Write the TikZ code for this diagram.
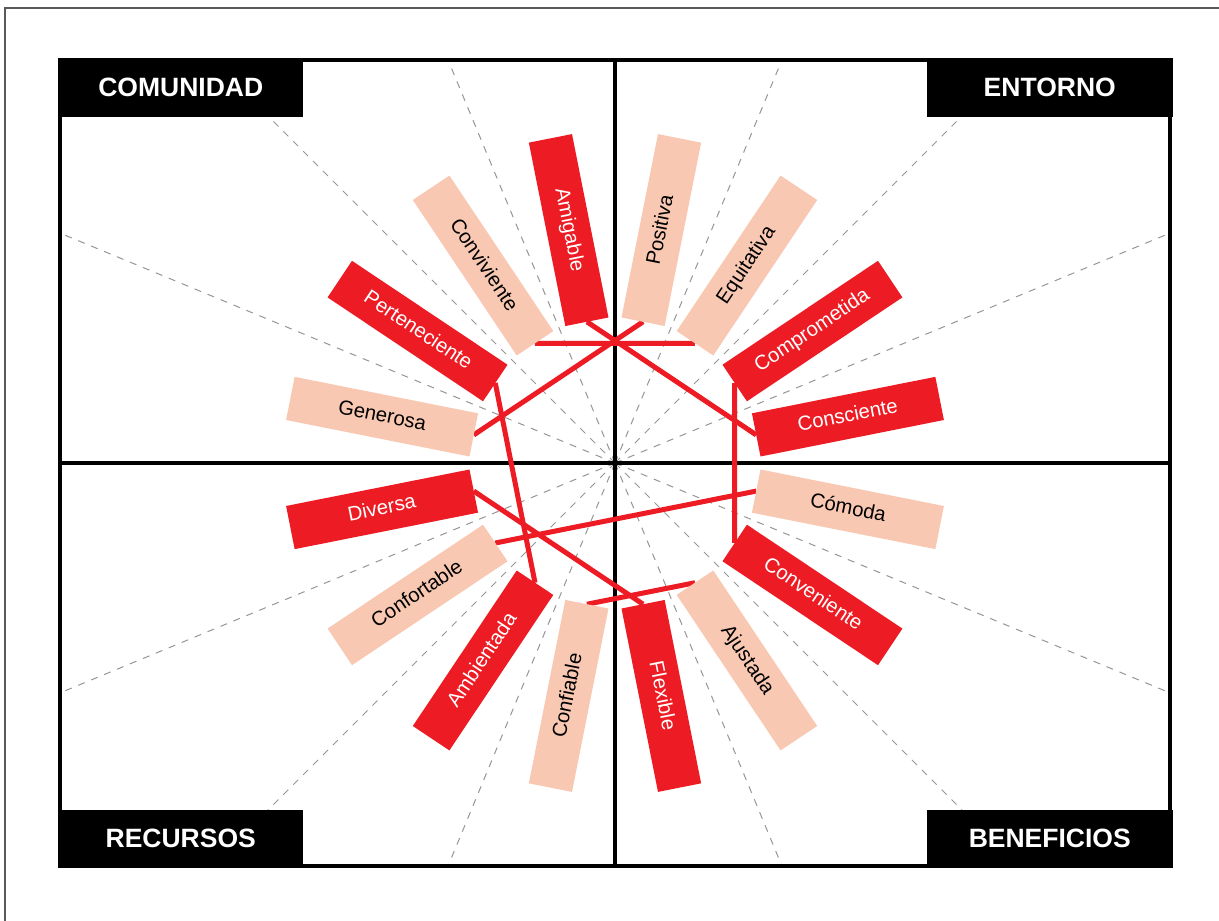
\documentclass[tikz,border=0pt]{standalone}
\usepackage{fontspec}
\setmainfont{Liberation Sans}
\definecolor{cred}{RGB}{237,28,36}
\definecolor{cpeach}{RGB}{248,200,178}
\definecolor{cspoke}{RGB}{150,150,150}
\pgfdeclarelayer{bg}
\pgfdeclarelayer{links}
\pgfsetlayers{bg,links,main}
\begin{document}
\begin{tikzpicture}[x=1pt,y=1pt,
  lbl/.style={minimum width=187pt, minimum height=44pt, inner sep=0pt, outer sep=0pt,
    text height=14.6pt, text depth=4.3pt, font=\fontsize{20.3}{24}\selectfont},
  rbox/.style={lbl, fill=cred, text=white},
  pbox/.style={lbl, fill=cpeach, text=black},
  corner/.style={fill=black, text=white, font=\bfseries\fontsize{26.5}{30}\selectfont,
    minimum width=245.5pt, minimum height=58.5pt, inner sep=0pt, outer sep=0pt},
  spoke/.style={draw=cspoke, line width=1pt, dash pattern=on 7pt off 7pt},
  link/.style={draw=cred, line width=5pt},
  axis/.style={draw=black, line width=4.5pt},
]
\useasboundingbox (-615,-458) rectangle (604,463);
\begin{pgfonlayer}{bg}
\fill[white] (-615,-458) rectangle (604,463);
\draw[line width=2pt, draw=black!65] (-610,-458) -- (-610,455) -- (604,455);
\coordinate (o) at (0,0);
\begin{scope}
\clip (-555,-402.5) rectangle (555,402.5);
\foreach \a in {22.5,45,67.5,112.5,135,157.5,202.5,225,247.5,292.5,315,337.5}
  \draw[spoke] (o) -- (\a:720);
\end{scope}
\coordinate (n) at (0,404);
\coordinate (s) at (0,-404);
\coordinate (w) at (-557,0);
\coordinate (e) at (557,0);
\draw[axis] (n) -- (s);
\draw[axis] (w) -- (e);
\draw[line width=4pt] (-555,-402.5) rectangle (555,402.5);
\node[corner, anchor=north west] (comunidad) at (-557,404.5) {COMUNIDAD};
\node[corner, anchor=north east] (entorno) at (557.5,404.5) {ENTORNO};
\node[corner, anchor=south west] (recursos) at (-557,-405) {RECURSOS};
\node[corner, anchor=south east] (beneficios) at (557.5,-405) {BENEFICIOS};
\end{pgfonlayer}

\node[pbox, rotate=78.75] (positiva) at (78.75:237.5) {Positiva};
\node[pbox, rotate=56.25] (equitativa) at (56.25:237.5) {Equitativa};
\node[rbox, rotate=33.75] (comprometida) at (33.75:237.5) {Comprometida};
\node[rbox, rotate=11.25] (consciente) at (11.25:237.5) {Consciente};
\node[pbox, rotate=-11.25] (comoda) at (-11.25:237.5) {Cómoda};
\node[rbox, rotate=-33.75] (conveniente) at (-33.75:237.5) {Conveniente};
\node[pbox, rotate=-56.25] (ajustada) at (-56.25:237.5) {Ajustada};
\node[rbox, rotate=-78.75] (flexible) at (-78.75:237.5) {Flexible};
\node[pbox, rotate=78.75] (confiable) at (-101.25:237.5) {Confiable};
\node[rbox, rotate=56.25] (ambientada) at (-123.75:237.5) {Ambientada};
\node[pbox, rotate=33.75] (confortable) at (-146.25:237.5) {Confortable};
\node[rbox, rotate=11.25] (diversa) at (-168.75:237.5) {Diversa};
\node[pbox, rotate=-11.25] (generosa) at (168.75:237.5) {Generosa};
\node[rbox, rotate=-33.75] (perteneciente) at (146.25:237.5) {Perteneciente};
\node[pbox, rotate=-56.25] (conviviente) at (123.75:237.5) {Conviviente};
\node[rbox, rotate=-78.75] (amigable) at (101.25:237.5) {Amigable};

\begin{pgfonlayer}{links}
\draw[link] (amigable.east) -- (consciente.west);
\draw[link] (positiva.west) -- (generosa.east);
\draw[link] (conviviente.east) -- (equitativa.west);
\draw[link] (perteneciente.east) -- (ambientada.east);
\draw[link] (comprometida.west) -- (conveniente.west);
\draw[link] (diversa.east) -- (flexible.west);
\draw[link] (comoda.west) -- (confortable.east);
\draw[link] (ajustada.west) -- (confiable.east);
\end{pgfonlayer}
\end{tikzpicture}
\end{document}
